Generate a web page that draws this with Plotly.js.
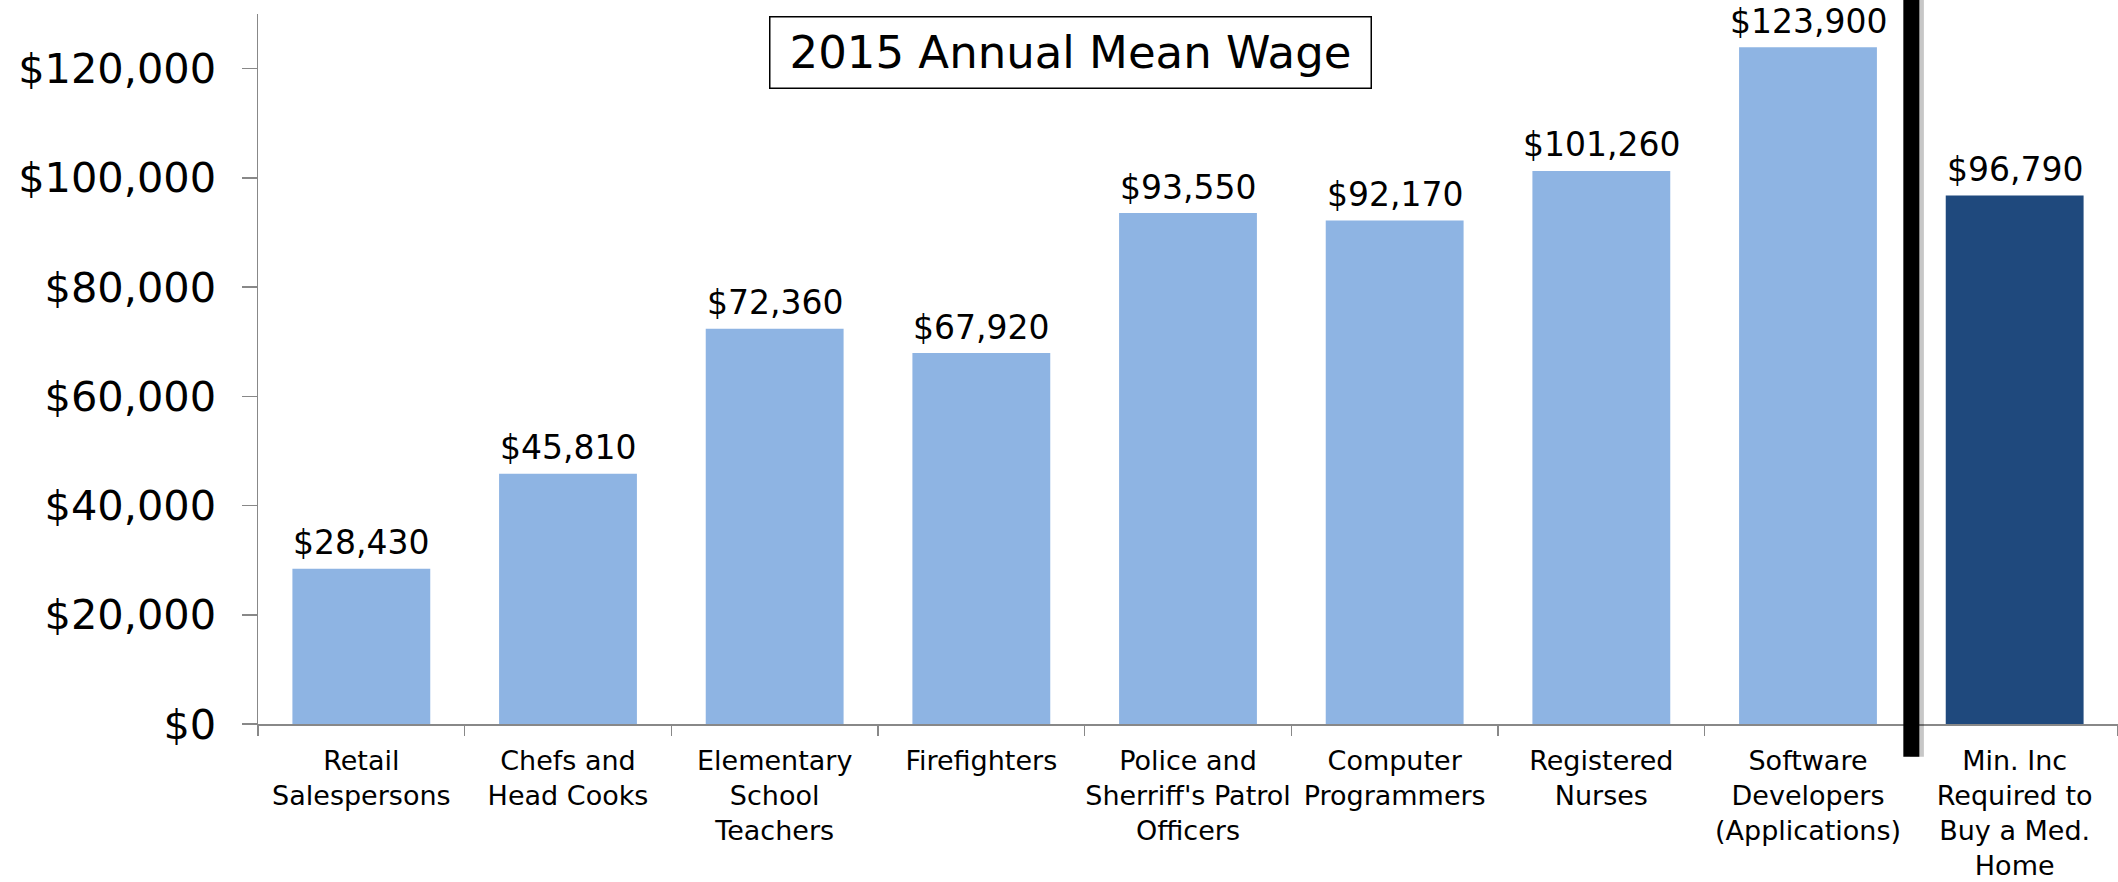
<!DOCTYPE html>
<html>
<head>
<meta charset="utf-8">
<script src="https://cdn.plot.ly/plotly-3.0.1.min.js"></script>
<style>html,body{margin:0;padding:0;background:#fff;}#chart{width:2118px;height:882px;}</style>
</head>
<body>
<div id="chart"></div>
<script>
const categories = [
  "Retail<br>Salespersons",
  "Chefs and<br>Head Cooks",
  "Elementary<br>School<br>Teachers",
  "Firefighters",
  "Police and<br>Sherriff's Patrol<br>Officers",
  "Computer<br>Programmers",
  "Registered<br>Nurses",
  "Software<br>Developers<br>(Applications)",
  "Min. Inc<br>Required to<br>Buy a Med.<br>Home"
];
const wages = [28430, 45810, 72360, 67920, 93550, 92170, 101260, 123900, 96790];
const barColors = ["#8EB4E3","#8EB4E3","#8EB4E3","#8EB4E3","#8EB4E3","#8EB4E3","#8EB4E3","#8EB4E3","#1F497D"];
const chartTitle = "2015 Annual Mean Wage";

const FONT = "DejaVu Sans, sans-serif";

const trace = {
  type: "bar",
  x: categories,
  y: wages,
  marker: { color: barColors },
  hoverinfo: "x+y"
};

const valueLabels = categories.map((c, i) => ({
  x: c,
  y: wages[i],
  xref: "x", yref: "y",
  text: "$" + wages[i].toLocaleString("en-US"),
  showarrow: false,
  xanchor: "center",
  yanchor: "middle",
  yshift: 26,
  font: { family: FONT, size: 33, color: "#000" }
}));

const layout = {
  width: 2118,
  height: 882,
  margin: { l: 258, r: 0, t: 14, b: 158 },
  paper_bgcolor: "#fff",
  plot_bgcolor: "#fff",
  showlegend: false,
  bargap: 0.333,
  font: { family: FONT, color: "#000" },
  xaxis: {
    type: "category",
    showline: true,
    linecolor: "#888888",
    linewidth: 1.5,
    ticks: "outside",
    tickson: "boundaries",
    ticklen: 10,
    tickcolor: "#888888",
    tickwidth: 1.5,
    showgrid: false,
    zeroline: false,
    ticklabelstandoff: 12,
    tickfont: { family: FONT, size: 27, color: "#000" },
    tickangle: 0,
    automargin: false
  },
  yaxis: {
    range: [0, 130000],
    dtick: 20000,
    tick0: 0,
    tickprefix: "$",
    tickformat: ",",
    showline: true,
    linecolor: "#888888",
    linewidth: 1.5,
    ticks: "outside",
    ticklen: 15,
    tickcolor: "#888888",
    tickwidth: 1.5,
    showgrid: false,
    zeroline: false,
    ticklabelstandoff: 17,
    tickfont: { family: FONT, size: 41.5, color: "#000" },
    automargin: false
  },
  shapes: [
    { type: "line", xref: "paper", yref: "paper", x0: 8/9 + 0.003, x1: 8/9 + 0.003, y0: -0.046, y1: 1.03,
      line: { color: "rgba(0,0,0,0.22)", width: 14 }, layer: "above" },
    { type: "line", xref: "paper", yref: "paper", x0: 8/9, x1: 8/9, y0: -0.046, y1: 1.03,
      line: { color: "#000", width: 16 }, layer: "above" }
  ],
  annotations: [
    {
      text: chartTitle,
      xref: "paper", yref: "paper",
      x: 0.4366, y: 0.946,
      xanchor: "center", yanchor: "middle",
      showarrow: false,
      font: { family: FONT, size: 45, color: "#000" },
      bordercolor: "#000",
      borderwidth: 1.5,
      borderpad: 2,
      bgcolor: "#fff",
      width: 596,
      height: 66
    }
  ].concat(valueLabels)
};

Plotly.newPlot("chart", [trace], layout, { displayModeBar: false, staticPlot: true });
</script>
</body>
</html>
